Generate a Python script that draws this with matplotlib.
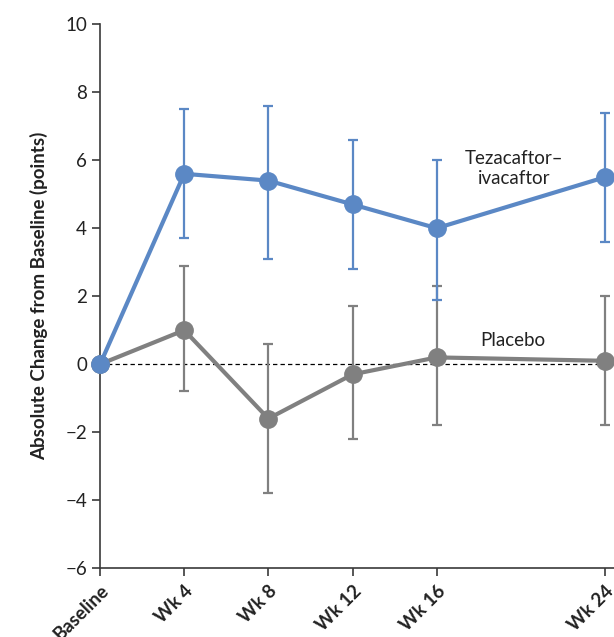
import matplotlib.pyplot as plt

# Visit schedule (weeks) and labels
weeks = [0, 4, 8, 12, 16, 24]
visit_labels = ["Baseline", "Wk 4", "Wk 8", "Wk 12", "Wk 16", "Wk 24"]

# Tezacaftor-ivacaftor: mean change with interval bounds
teza_mean = [0, 5.6, 5.4, 4.7, 4.0, 5.5]
teza_low = [0, 3.7, 3.1, 2.8, 1.9, 3.6]
teza_high = [0, 7.5, 7.6, 6.6, 6.0, 7.4]

# Placebo: mean change with interval bounds
plac_mean = [0, 1.0, -1.6, -0.3, 0.2, 0.1]
plac_low = [0, -0.8, -3.8, -2.2, -1.8, -1.8]
plac_high = [0, 2.9, 0.6, 1.7, 2.3, 2.0]

blue = "#5b88c5"
gray = "#808080"
axis_color = "#3a3a3a"

plt.rcParams["font.family"] = ["Lato", "DejaVu Sans"]

fig = plt.figure(figsize=(6.14, 6.37), dpi=100)
ax = fig.add_axes([0.163, 0.108, 0.837, 0.854])


def draw_series(mean, low, high, color):
    # draw error bars from lower/upper bounds, skipping baseline
    err_lo = [m - l for m, l in zip(mean, low)]
    err_hi = [h - m for m, h in zip(mean, high)]
    ax.errorbar(weeks[1:], mean[1:], yerr=[err_lo[1:], err_hi[1:]], fmt="none",
                ecolor=color, elinewidth=1.6, capsize=3.8, capthick=1.6, zorder=3)
    ax.plot(weeks, mean, color=color, lw=3, marker="o", markersize=12.5,
            clip_on=False, zorder=4)


ax.axhline(0, color="black", lw=0.9, ls=(0, (3.5, 2.5)), zorder=2)
draw_series(plac_mean, plac_low, plac_high, gray)
draw_series(teza_mean, teza_low, teza_high, blue)

ax.set_xlim(0, 24.43)
ax.set_ylim(-6, 10)
ax.set_yticks(range(-6, 11, 2))
ax.set_yticklabels([str(v).replace("-", "\u2212") for v in range(-6, 11, 2)])
ax.set_xticks(weeks)
ax.set_xticklabels(visit_labels, rotation=45, ha="right", va="top",
                   rotation_mode="anchor", fontweight="bold")

for side in ["top", "right"]:
    ax.spines[side].set_visible(False)
for side in ["left", "bottom"]:
    ax.spines[side].set_color(axis_color)
    ax.spines[side].set_linewidth(1.2)
ax.tick_params(axis="both", colors=axis_color, length=6, width=1.2,
               labelsize=13.5, labelcolor="#222222")
ax.tick_params(axis="x", pad=4)

ax.set_ylabel("Absolute Change from Baseline (points)", fontsize=13.5,
              fontweight="bold", color="#222222", labelpad=12)

ax.text(19.7, 5.76, "Tezacaftor\u2013\nivacaftor", ha="center", va="center",
        fontsize=13.5, color="#222222", linespacing=1.2)
ax.text(19.6, 0.7, "Placebo", ha="center", va="center", fontsize=13.5,
        color="#222222")

fig.savefig("out.png", dpi=100)
